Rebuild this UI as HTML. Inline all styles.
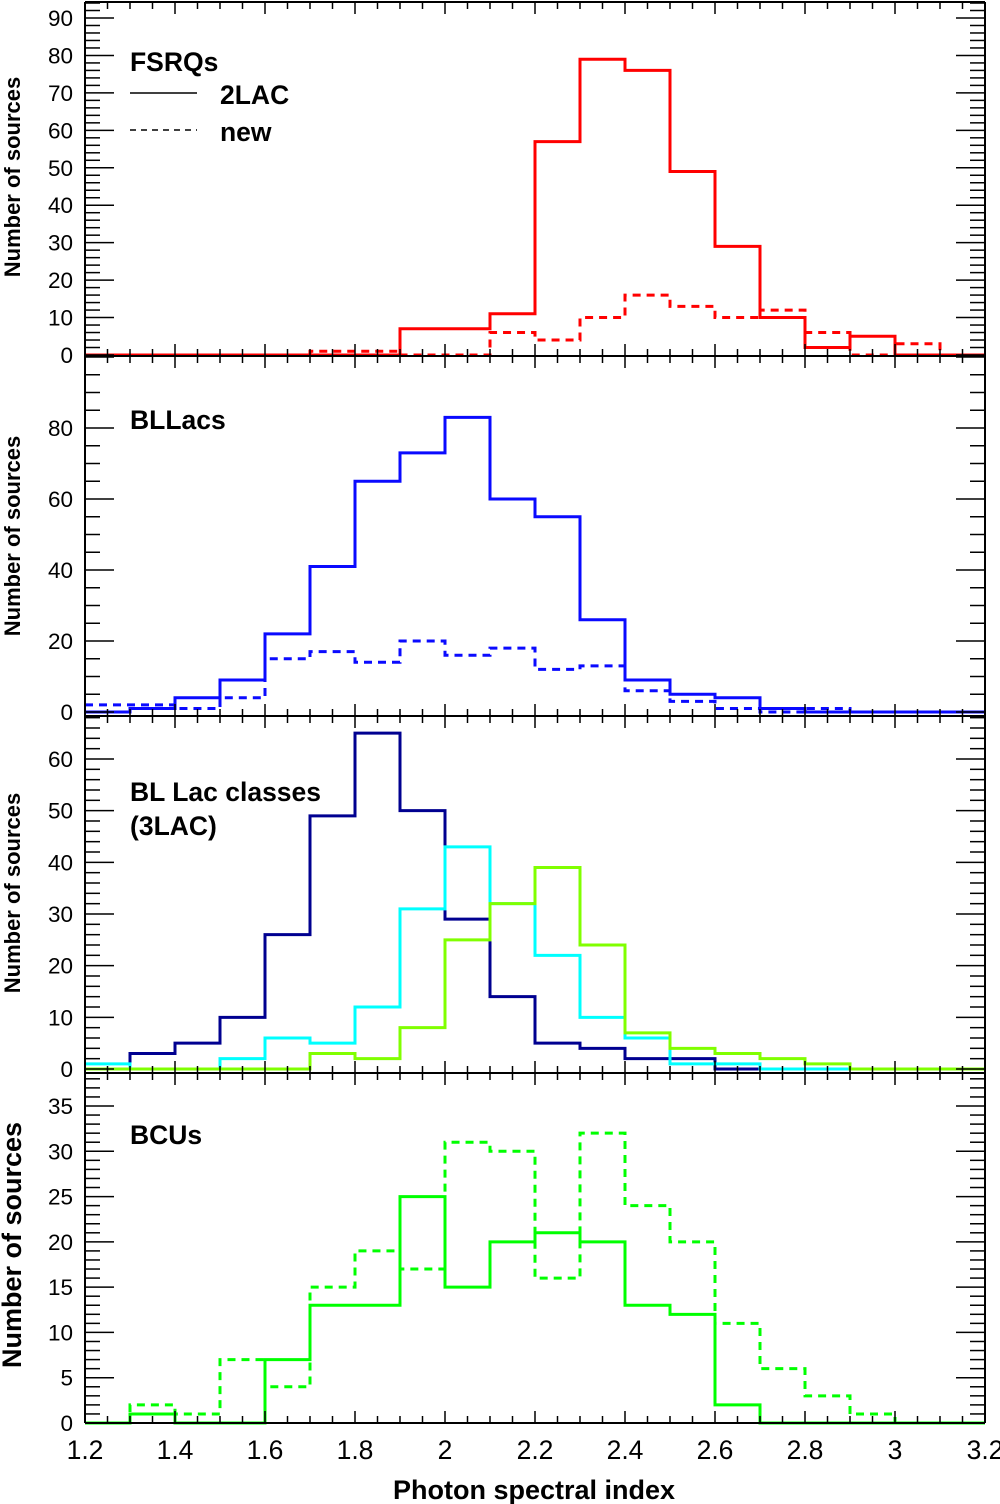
<!DOCTYPE html>
<html><head><meta charset="utf-8"><style>
body{margin:0;background:#fff}
svg{display:block;font-family:"Liberation Sans",sans-serif}
</style></head><body>
<svg id="c" width="1000" height="1504" viewBox="0 0 1000 1504" xmlns="http://www.w3.org/2000/svg"></svg>
<script>
const binStart = 1.2, binWidth = 0.1;
const fsrq2LAC = [0,0,0,0,0,0,0,7,7,11,57,79,76,49,29,10,2,5,0,0];
const fsrqNew  = [0,0,0,0,0,1,1,0,0,6,4,10,16,13,10,12,6,0,3,0];
const bll2LAC  = [0,1,4,9,22,41,65,73,83,60,55,26,9,5,4,1,0,0,0,0];
const bllNew   = [2,2,1,4,15,17,14,20,16,18,12,13,6,3,1,0,1,0,0,0];
const lsp = [0,3,5,10,26,49,65,50,29,14,5,4,2,2,0,0,0,0,0,0];
const isp = [1,0,0,2,6,5,12,31,43,32,22,10,6,1,1,0,0,0,0,0];
const hsp = [0,0,0,0,0,3,2,8,25,32,39,24,7,4,3,2,1,0,0,0];
const bcu2LAC = [0,1,0,0,7,13,13,25,15,20,21,20,13,12,2,0,0,0,0,0];
const bcuNew  = [0,2,1,7,4,15,19,17,31,30,16,32,24,20,11,6,3,1,0,0];
const xTickLabels = ["1.2","1.4","1.6","1.8","2","2.2","2.4","2.6","2.8","3","3.2"];

const svg = document.getElementById('c');
const NS = 'http://www.w3.org/2000/svg';
const X0 = 85, X1 = 985;
function xs(v){ return X0 + (v-1.2)/2.0*(X1-X0); }
function mk(tag, attrs, parent){
  const e = document.createElementNS(NS, tag);
  for (const k in attrs) e.setAttribute(k, attrs[k]);
  (parent||svg).appendChild(e); return e;
}

const panels = [
 {name:'fsrq', top:2, bot:356, y0:355, yRef:90, yRefPix:18, major:10, minor:2, ymax:90, label:['FSRQs'], tfs:22, tcy:177,
  series:[{d:fsrqNew,c:'#ff0000',dash:true,n:'fsrq-new'},{d:fsrq2LAC,c:'#ff0000',n:'fsrq-2lac'}]},
 {name:'bllac', top:356, bot:716, y0:712, yRef:80, yRefPix:428, major:20, minor:5, ymax:80, label:['BLLacs'], tfs:22, tcy:536,
  series:[{d:bllNew,c:'#0a0aff',dash:true,n:'bllac-new'},{d:bll2LAC,c:'#0a0aff',n:'bllac-2lac'}]},
 {name:'blclass', top:716, bot:1073, y0:1069, yRef:60, yRefPix:759, major:10, minor:2, ymax:60, label:['BL Lac classes','(3LAC)'], tfs:22, tcy:893,
  series:[{d:lsp,c:'#000090',n:'lsp'},{d:isp,c:'#00ffff',n:'isp'},{d:hsp,c:'#80ff00',n:'hsp'}]},
 {name:'bcu', top:1073, bot:1423, y0:1423, yRef:35, yRefPix:1106, major:5, minor:1, ymax:35, label:['BCUs'], tfs:27, tcy:1245,
  series:[{d:bcuNew,c:'#00ff00',dash:true,n:'bcu-new'},{d:bcu2LAC,c:'#00ff00',n:'bcu-2lac'}]}
];

panels.forEach((p, pi) => {
  const g = mk('g', {});
  
  
  const ys = v => p.y0 + (p.yRefPix - p.y0) * v / p.yRef;
  p.series.forEach(s => {
    let d = '';
    s.d.forEach((v, i) => {
      const xa = xs(binStart + i*binWidth), xb = xs(binStart + (i+1)*binWidth), y = ys(v);
      d += (i===0 ? 'M' : 'L') + xa + ' ' + y + ' L' + xb + ' ' + y + ' ';
    });
    const path = mk('path', {d:d, fill:'none', stroke:s.c, 'stroke-width':3, 'stroke-dasharray': s.dash ? '8 6' : 'none'}, g);
    
    
  });
  mk('line', {x1:X0, y1:p.top, x2:X0, y2:p.bot, stroke:'#000', 'stroke-width':2}, g);
  mk('line', {x1:X1, y1:p.top, x2:X1, y2:p.bot, stroke:'#000', 'stroke-width':2}, g);
  mk('line', {x1:X0, y1:p.bot, x2:X1, y2:p.bot, stroke:'#000', 'stroke-width':2}, g);
  if (pi===0) mk('line', {x1:X0, y1:p.top, x2:X1, y2:p.top, stroke:'#000', 'stroke-width':2}, g);
  for (let k = 0; k <= 40; k++) {
    const x = xs(1.2 + k*0.05), L = (k%4===0) ? 12 : 7;
    mk('line', {x1:x, y1:p.bot, x2:x, y2:p.bot-L, stroke:'#000', 'stroke-width':1.5}, g);
    mk('line', {x1:x, y1:p.top, x2:x, y2:p.top+L, stroke:'#000', 'stroke-width':1.5}, g);
  }
  for (let v = 0; ; v += p.minor) {
    const y = ys(v); if (y < p.top + 1) break;
    const maj = Math.abs(v/p.major - Math.round(v/p.major)) < 1e-6, L = maj ? 29 : 15;
    mk('line', {x1:X0, y1:y, x2:X0+L, y2:y, stroke:'#000', 'stroke-width':1.5}, g);
    mk('line', {x1:X1, y1:y, x2:X1-L, y2:y, stroke:'#000', 'stroke-width':1.5}, g);
    if (maj && v <= p.ymax) {
      const t = mk('text', {x:73, y:y+8, 'font-size':22.5, 'text-anchor':'end'}, g);
      t.textContent = v;
    }
  }
  for (let v = -p.minor; ; v -= p.minor) {
    const y = ys(v); if (y > p.bot - 1) break;
    mk('line', {x1:X0, y1:y, x2:X0+15, y2:y, stroke:'#000', 'stroke-width':1.5}, g);
    mk('line', {x1:X1, y1:y, x2:X1-15, y2:y, stroke:'#000', 'stroke-width':1.5}, g);
  }
  const yt = mk('text', {x:0, y:0, 'font-size':p.tfs, 'font-weight':'bold', 'text-anchor':'middle', transform:`translate(${p.tfs>24?21:20},${p.tcy}) rotate(-90)`}, g);
  yt.textContent = 'Number of sources';
  
  
  const ly = [71, 429, 801, 1144][pi];
  p.label.forEach((s, i) => {
    const t = mk('text', {x:130, y:ly + i*34, 'font-size':26.5, 'font-weight':'bold'}, g);
    t.textContent = s;
    
    
  });
});

const lg = mk('g', {});


mk('line', {x1:130, y1:93, x2:197, y2:93, stroke:'#000', 'stroke-width':1.5}, lg);
mk('line', {x1:130, y1:130, x2:197, y2:130, stroke:'#000', 'stroke-width':1.5, 'stroke-dasharray':'6 5'}, lg);
const l1 = mk('text', {x:220, y:104, 'font-size':26.5, 'font-weight':'bold'}, lg); l1.textContent = '2LAC';


const l2 = mk('text', {x:220, y:141, 'font-size':26.5, 'font-weight':'bold'}, lg); l2.textContent = 'new';



xTickLabels.forEach((s, i) => {
  const t = mk('text', {x:xs(1.2 + i*0.2), y:1459, 'font-size':26.5, 'text-anchor':'middle'});
  t.textContent = s;
  
  
});
const xt = mk('text', {x:534, y:1499, 'font-size':27, 'font-weight':'bold', 'text-anchor':'middle'});
xt.textContent = 'Photon spectral index';


</script>
</body></html>
